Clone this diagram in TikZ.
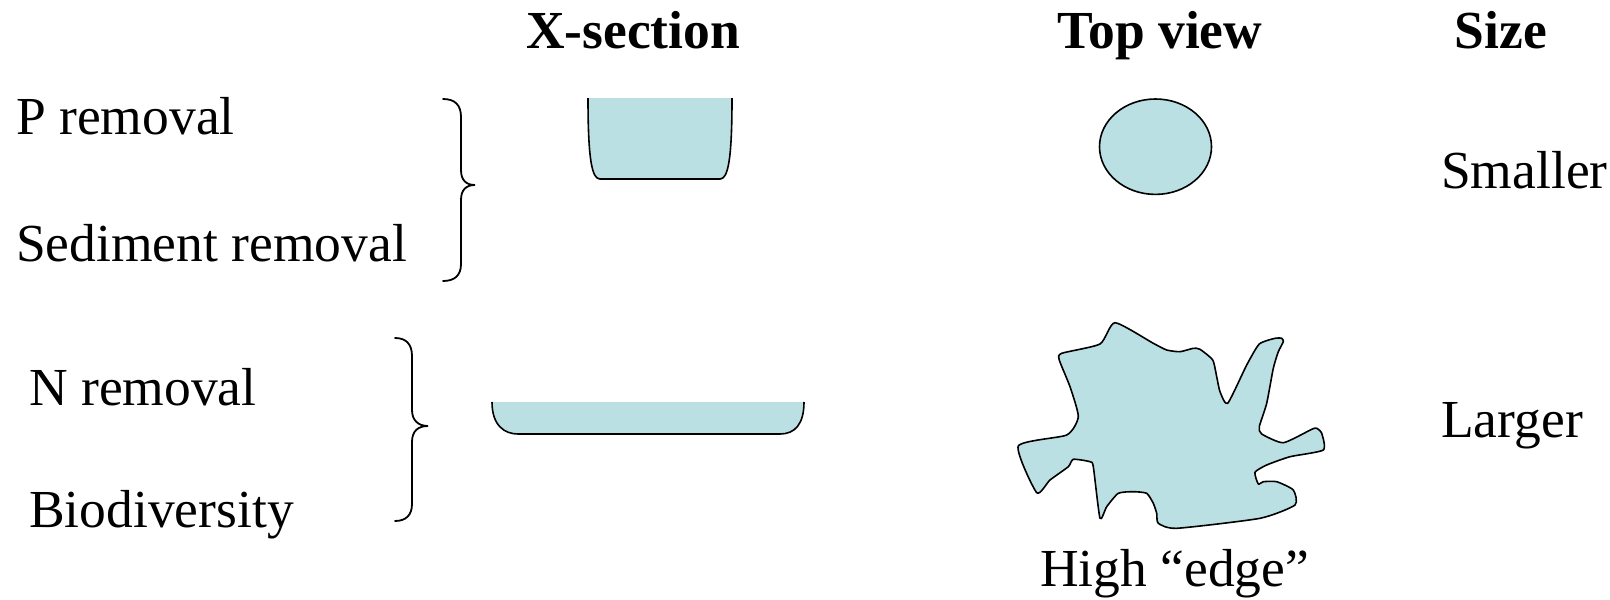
\documentclass[tikz,border=0pt]{standalone}
\usepackage{fontspec}
\setmainfont{Liberation Serif}
\definecolor{pond}{RGB}{187,224,227}
\begin{document}
\begin{tikzpicture}[x=1pt,y=-1pt,
  lbl/.style={inner sep=0pt,anchor=base west,font=\fontsize{53.5}{64}\selectfont},
  hdr/.style={inner sep=0pt,anchor=base,font=\fontsize{53.5}{64}\selectfont\bfseries},
  outline/.style={line width=1.6pt,line join=round},
  bracestyle/.style={line width=1.8pt,line cap=round}]
\useasboundingbox (0,0) rectangle (1610,600);
% headers
\node[hdr] (hx) at (633,48) {X-section};
\node[hdr] (ht) at (1160,48) {Top view};
\node[hdr] (hs) at (1501,48) {Size};
% left labels
\node[lbl] (lp) at (16,134) {P removal};
\node[lbl] (ls) at (16,261.5) {Sediment removal};
\node[lbl] (ln) at (29,405) {N removal};
\node[lbl] (lb) at (29,527.5) {Biodiversity};
% right labels
\node[lbl] (rs) at (1441,188.5) {Smaller};
\node[lbl] (rl) at (1441,437) {Larger};
% caption
\node[lbl] (edge) at (1040,586) {High ``edge''};
% braces
\draw[bracestyle] (443,99) .. controls (455,99) and (461,105) .. (461,117) -- (461,170)
  .. controls (461,180) and (466,185) .. (475,185)
  .. controls (466,185) and (461,190) .. (461,200) -- (461,264)
  .. controls (461,275) and (455,281) .. (443,281);
\draw[bracestyle] (395,338) .. controls (406,338) and (412,344) .. (412,356) -- (412,410)
  .. controls (412,420) and (418,426) .. (428,426)
  .. controls (418,426) and (412,431) .. (412,442) -- (412,504)
  .. controls (412,515) and (406,521) .. (395,521);
% small cross-section
\fill[pond] (588,98) .. controls (588,160) and (592,179) .. (600,179) -- (720,179)
  .. controls (728,179) and (732,160) .. (732,98) -- cycle;
\draw[outline] (588,98) .. controls (588,160) and (592,179) .. (600,179) -- (720,179)
  .. controls (728,179) and (732,160) .. (732,98);
% wide cross-section
\fill[pond] (492,402) .. controls (492,426) and (505,434) .. (518,434) -- (780,434)
  .. controls (795,434) and (804,424) .. (804,402) -- cycle;
\draw[outline] (492,402) .. controls (492,426) and (505,434) .. (518,434) -- (780,434)
  .. controls (795,434) and (804,424) .. (804,402);
% round top view
\draw[outline,fill=pond] (1155.5,146.7) ellipse [x radius=56, y radius=47.7];
% irregular top view
\draw[outline,fill=pond] plot[smooth cycle,tension=0.35] coordinates {
(1115,322.7) (1100,344) (1061.7,353.3) (1059.3,360) (1070,386.7) (1078.3,416.7)
(1066.7,435) (1018.3,446) (1036.7,492.7) (1050,480) (1068.3,466.7) (1073.3,459.3)
(1090,461.7) (1093.3,466.7) (1100,518.3) (1106.7,506.7) (1118.3,493.3) (1133.3,491.7)
(1146.7,493.3) (1153.3,503.3) (1156.7,513.3) (1158.3,523.3) (1176.7,528.3)
(1260,518.3) (1295,505) (1293.3,490) (1276.7,481.7) (1263.3,481.7) (1258.3,484)
(1255,472.3) (1266.7,465) (1290,456.7) (1323.3,450) (1321.7,433.3) (1316.7,428.3)
(1311.7,429.3) (1283.3,442.7) (1261.7,434) (1259.3,426.7) (1266.7,403.3)
(1273.3,368.3) (1278.3,351.7) (1283.3,341.7) (1281.7,338.3) (1275,338.3)
(1259.3,344) (1246.7,365) (1227.7,403.3) (1220,391.7) (1216.7,376.7) (1212.7,360)
(1200,349.3) (1193.3,348.3) (1180,351.7) (1166.7,350) (1153.3,343.3)};
\end{tikzpicture}
\end{document}
